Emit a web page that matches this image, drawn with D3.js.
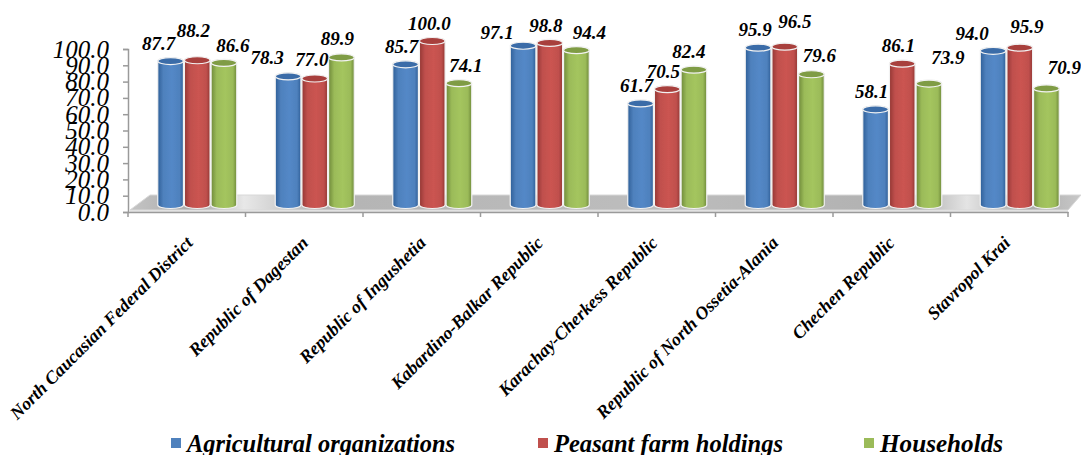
<!DOCTYPE html>
<html>
<head>
<meta charset="utf-8">
<script src="https://cdnjs.cloudflare.com/ajax/libs/d3/7.8.5/d3.min.js"></script>
<style>
  html, body { margin: 0; padding: 0; background: #fff; overflow: hidden; }
  text { font-family: "Liberation Serif", serif; font-style: italic; fill: #000; }
</style>
</head>
<body>
<div id="chart"></div>
<script>
const categories = ["North Caucasian Federal District", "Republic of Dagestan", "Republic of Ingushetia",
    "Kabardino-Balkar Republic", "Karachay-Cherkess Republic", "Republic of North Ossetia-Alania",
    "Chechen Republic", "Stavropol Krai"];
const seriesNames = ["Agricultural organizations", "Peasant farm holdings", "Households"];
const agricultural = [87.7, 78.3, 85.7, 97.1, 61.7, 95.9, 58.1, 94.0];
const peasant = [88.2, 77.0, 100.0, 98.8, 70.5, 96.5, 86.1, 95.9];
const households = [86.6, 89.9, 74.1, 94.4, 82.4, 79.6, 73.9, 70.9];
const yTicks = [0, 10, 20, 30, 40, 50, 60, 70, 80, 90, 100];

const colors = ["#4f81bd", "#c0504d", "#9bbb59"];
const darks = ["#2f5f98", "#943734", "#6f8a3a"];
const tops = ["#3a6ca8", "#a83f3c", "#7f9c44"];

// Hand placed label nudges, Excel moved these around so no rule fits them (dx, dy from bar top)
const labelNudge = [
    [[-12, -11], [-4, -23], [9, -11]],
    [[-21, -12], [-3, -12], [-4, -12]],
    [[-4, -11], [-3, -11], [7, -11]],
    [[-26, -7], [-4, -11], [13, -11]],
    [[-4, -11], [-4, -11], [-5, -12]],
    [[-3, -12], [10, -19], [8, -12]],
    [[-4, -11], [-4, -12], [19, -20]],
    [[-21, -11], [7, -15], [18, -14]]
];
// x shift of each rotated category label's end from the band centre
const catDx = [7, 5, 5, 5, 2, 5, 4, 2];

const width = 1081, height = 455;
const axisX = 128, axisRight = 1068, axisY = 212, axisTop = 49;
const floorDrop = 7, topDrop = 8, floorBack = 195, floorDepth = 22;

const svg = d3.select("#chart").append("svg")
    .attr("width", width).attr("height", height);

const x = d3.scaleBand().domain(categories).range([axisX, axisRight]);
const xInner = d3.scaleBand().domain(seriesNames).range([0, 80]);
const y = d3.scaleLinear().domain([0, 100]).range([axisY, axisTop]);

const defs = svg.append("defs");

// Cylinder shading
colors.forEach((c, i) => {
    const g = defs.append("linearGradient").attr("id", "cyl" + i);
    g.append("stop").attr("offset", "0%").attr("stop-color", darks[i]);
    g.append("stop").attr("offset", "22%").attr("stop-color", c);
    g.append("stop").attr("offset", "55%").attr("stop-color", d3.color(c).brighter(0.15));
    g.append("stop").attr("offset", "85%").attr("stop-color", c);
    g.append("stop").attr("offset", "100%").attr("stop-color", darks[i]);
});

const floorGrad = defs.append("linearGradient").attr("id", "floorGrad");
[[0, "#c4c4c4"], [0.07, "#a9a9a9"], [0.12, "#e8e8e8"], [0.2, "#b4b4b4"], [0.55, "#bdbdbd"],
 [0.83, "#b0b0b0"], [0.88, "#e4e4e4"], [0.94, "#a8a8a8"], [1, "#c8c8c8"]].forEach(s => {
    floorGrad.append("stop").attr("offset", s[0]).attr("stop-color", s[1]);
});

defs.append("filter").attr("id", "soft")
    .append("feGaussianBlur").attr("stdDeviation", 0.5);

// Floor
svg.append("path")
    .attr("d", `M${axisX + 2},${axisY - 2}L${axisX + floorDepth},${floorBack}L${axisRight + 13},${floorBack}L${axisRight},${axisY - 2}Z`)
    .attr("fill", "url(#floorGrad)")
    .attr("stroke", "#d8d8d8");
svg.append("rect")
    .attr("x", axisX + 2).attr("y", axisY - 2)
    .attr("width", axisRight - axisX - 2).attr("height", 2)
    .attr("fill", "#e2e2e2");

// Axes
const yAxis = svg.append("g")
    .attr("transform", `translate(${axisX},0)`)
    .call(d3.axisLeft(y).tickValues(yTicks).tickSize(5).tickPadding(14).tickFormat(d3.format(".1f")));
yAxis.selectAll("path, line").attr("stroke", "#9a9a9a").attr("stroke-width", 1.5);
yAxis.selectAll("text").attr("font-size", 25).attr("font-family", "Liberation Serif");

const xAxis = svg.append("g")
    .attr("transform", `translate(0,${axisY})`)
    .call(d3.axisBottom(x).tickValues([]).tickSizeOuter(0));
xAxis.select("path").attr("stroke", "#9a9a9a").attr("stroke-width", 1.5);
svg.append("g").selectAll("line")
    .data(d3.range(categories.length + 1))
    .join("line")
    .attr("x1", i => axisX + i * x.bandwidth())
    .attr("x2", i => axisX + i * x.bandwidth())
    .attr("y1", axisY).attr("y2", axisY + 5)
    .attr("stroke", "#9a9a9a").attr("stroke-width", 1.5);

// Bars
const seriesValues = [agricultural, peasant, households];
const ry = 3.5;
const groupOffset = x.bandwidth() / 2 - 40 + 11;
const rows = [];
categories.forEach((cat, c) => {
    seriesNames.forEach((name, s) => {
        rows.push({ cat, c, name, s, value: seriesValues[s][c] });
    });
});

const bar = svg.append("g").attr("filter", "url(#soft)")
    .selectAll("g").data(rows).join("g")
    .attr("transform", d => `translate(${x(d.cat) + groupOffset + xInner(d.name)},0)`);

const w = xInner.bandwidth() - 1;
bar.append("path")
    .attr("d", d => {
        const t = y(d.value) - topDrop, b = axisY - floorDrop;
        return `M0,${t}L0,${b}A${w / 2},${ry} 0 0 0 ${w},${b}L${w},${t}A${w / 2},${ry} 0 0 0 0,${t}Z`;
    })
    .attr("fill", d => `url(#cyl${d.s})`)
    .attr("stroke", "#f2f2f2").attr("stroke-width", 1.2);
bar.append("ellipse")
    .attr("cx", w / 2).attr("cy", d => y(d.value) - topDrop)
    .attr("rx", w / 2).attr("ry", ry)
    .attr("fill", d => tops[d.s])
    .attr("stroke", "#f2f2f2").attr("stroke-width", 1.2);

// Data labels
svg.append("g").selectAll("text").data(rows).join("text")
    .attr("x", d => x(d.cat) + groupOffset + xInner(d.name) + w / 2 + labelNudge[d.c][d.s][0])
    .attr("y", d => y(d.value) - topDrop + labelNudge[d.c][d.s][1])
    .attr("text-anchor", "middle")
    .attr("font-size", 19).attr("font-weight", "bold")
    .text(d => d.value.toFixed(1));

// Category labels
svg.append("g").selectAll("text").data(categories).join("text")
    .attr("transform", (d, i) => `translate(${x(d) + x.bandwidth() / 2 + catDx[i]},244) rotate(-45)`)
    .attr("text-anchor", "end")
    .attr("font-size", 18).attr("font-weight", "bold")
    .text(d => d);

// Legend
const legendX = [171, 538, 864];
const legendLen = [268, 229, 123];
const legend = svg.append("g").selectAll("g").data(seriesNames).join("g")
    .attr("transform", (d, i) => `translate(${legendX[i]},0)`);
legend.append("rect")
    .attr("x", 0).attr("y", 438).attr("width", 10).attr("height", 10)
    .attr("fill", (d, i) => colors[i]);
legend.append("text")
    .attr("x", 16).attr("y", 452)
    .attr("font-size", 25).attr("font-weight", "bold")
    .attr("textLength", (d, i) => legendLen[i])
    .attr("lengthAdjust", "spacingAndGlyphs")
    .text(d => d);
</script>
</body>
</html>
